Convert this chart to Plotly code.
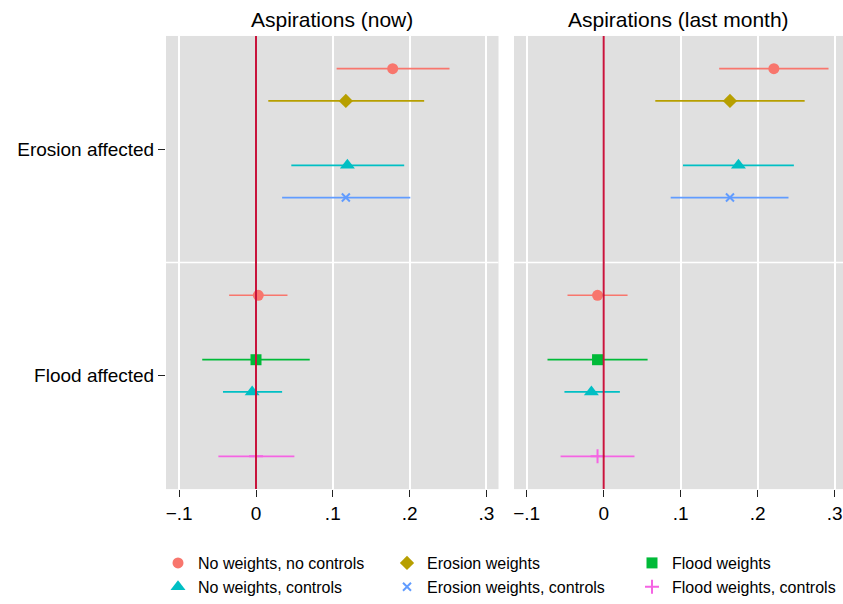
import plotly.graph_objects as go

# ---------------- data ----------------
categories = ["Erosion affected", "Flood affected"]
series = ["No weights, no controls", "Erosion weights", "Flood weights",
          "No weights, controls", "Erosion weights, controls", "Flood weights, controls"]
panels = ["Aspirations (now)", "Aspirations (last month)"]

# estimates / lower / upper per series, per category (None = not estimated)
now_est = [[0.178, 0.003], [0.117, None], [None, 0.000],
           [0.119, -0.005], [0.117, None], [None, 0.000]]
now_lo = [[0.105, -0.035], [0.016, None], [None, -0.070],
          [0.046, -0.043], [0.034, None], [None, -0.049]]
now_hi = [[0.252, 0.041], [0.219, None], [None, 0.070],
          [0.193, 0.034], [0.201, None], [None, 0.050]]

month_est = [[0.221, -0.008], [0.164, None], [None, -0.008],
             [0.175, -0.016], [0.164, None], [None, -0.008]]
month_lo = [[0.150, -0.047], [0.067, None], [None, -0.073],
            [0.103, -0.051], [0.087, None], [None, -0.056]]
month_hi = [[0.292, 0.031], [0.261, None], [None, 0.057],
            [0.247, 0.021], [0.240, None], [None, 0.040]]

tick_vals = [-0.1, 0, 0.1, 0.2, 0.3]
tick_text = ["\u2212.1", "0", ".1", ".2", ".3"]

# ---------------- style ----------------
colors = ["#F8766D", "#B79F00", "#00BA38", "#00BFC4", "#619CFF", "#F564E3"]
symbols = ["circle", "diamond", "square", "triangle-up", "x-thin", "cross-thin"]
sizes = [11, 11, 11, 13, 8, 10]
legend_ids = ["legend", "legend2", "legend3", "legend", "legend2", "legend3"]
slot_gap = 0.1422
FONT = "Liberation Sans, Arial, sans-serif"

W, H = 843, 604


def px(x):
    return x / W


def py(y):
    return 1 - y / H


fig = go.Figure()

panel_data = [(now_est, now_lo, now_hi), (month_est, month_lo, month_hi)]
for p, (est, lo, hi) in enumerate(panel_data):
    xa = "x" if p == 0 else "x2"
    ya = "y" if p == 0 else "y2"
    for s in range(len(series)):
        xs, ys, ep, em = [], [], [], []
        for c in range(len(categories)):
            if est[s][c] is None:
                continue
            xs.append(est[s][c])
            ys.append((c + 1) + (s - 2.5) * slot_gap)
            ep.append(hi[s][c] - est[s][c])
            em.append(est[s][c] - lo[s][c])
        thin = symbols[s].endswith("thin")
        fig.add_trace(go.Scatter(
            x=xs, y=ys, xaxis=xa, yaxis=ya, mode="markers",
            name=series[s], showlegend=(p == 0), legend=legend_ids[s],
            marker=dict(symbol=symbols[s], size=sizes[s], color=colors[s],
                        line=dict(color=colors[s], width=2 if thin else 0)),
            error_x=dict(type="data", symmetric=False, array=ep, arrayminus=em,
                         color=colors[s], thickness=1.7, width=0),
        ))

bg = "#e0e0e0"
xcommon = dict(tickvals=tick_vals, ticktext=tick_text, ticks="outside", ticklen=7,
               tickcolor="#222", tickwidth=1, showgrid=True, gridcolor="white",
               gridwidth=1.6, zeroline=False, showline=False,
               tickfont=dict(size=19, color="black", family=FONT), fixedrange=True)

ydom = [py(496.5), py(36.5)]
fig.update_layout(
    width=W, height=H,
    margin=dict(l=0, r=0, t=0, b=0),
    paper_bgcolor="white", plot_bgcolor=bg,
    font=dict(family=FONT, color="black"),
    xaxis=dict(domain=[px(166), px(498.5)], range=[-0.1172, 0.3158], anchor="y", **xcommon),
    xaxis2=dict(domain=[px(514), 1.0], range=[-0.1165, 0.3108], anchor="y2", **xcommon),
    yaxis=dict(domain=ydom, range=[2.5, 0.5],
               tickvals=[1, 2], ticktext=categories, ticks="outside", ticklen=7,
               tickcolor="#222", showgrid=False, zeroline=False, showline=False,
               tickfont=dict(size=19, color="black", family=FONT), anchor="x",
               fixedrange=True),
    yaxis2=dict(domain=ydom, range=[2.5, 0.5],
                matches="y", showticklabels=False, ticks="", showgrid=False,
                zeroline=False, showline=False, anchor="x2"),
    showlegend=True,
)

leg_common = dict(orientation="v", yanchor="top", xanchor="left", bgcolor="rgba(0,0,0,0)",
                  font=dict(size=16, family=FONT, color="black"), tracegroupgap=0,
                  itemwidth=30)
fig.update_layout(
    legend=dict(x=px(158), y=py(554.5), **leg_common),
    legend2=dict(x=px(387), y=py(554.5), **leg_common),
    legend3=dict(x=px(632), y=py(554.5), **leg_common),
)

# group separator and zero reference lines
for xr, yr in [("x", "y"), ("x2", "y2")]:
    fig.add_shape(type="line", xref=f"{xr} domain", yref=yr, x0=0, x1=1, y0=1.5, y1=1.5,
                  line=dict(color="white", width=1.6), layer="below")
    fig.add_shape(type="line", xref=xr, yref=f"{yr} domain", x0=0, x1=0, y0=0, y1=1,
                  line=dict(color="#c8143c", width=2), layer="above")

# panel titles
for p, xr in enumerate(["x", "x2"]):
    fig.add_annotation(text=panels[p], xref=f"{xr} domain", yref="paper", x=0.5,
                       y=py(20), yanchor="middle", xanchor="center", showarrow=False,
                       font=dict(size=21, family=FONT, color="black"))

# place the figure flush with the window (no default 8px page margin)
fig.write_html("out.html",
               config={"displayModeBar": False},
               post_script="document.body.style.margin='0';"
                           "document.documentElement.style.overflow='hidden';")
